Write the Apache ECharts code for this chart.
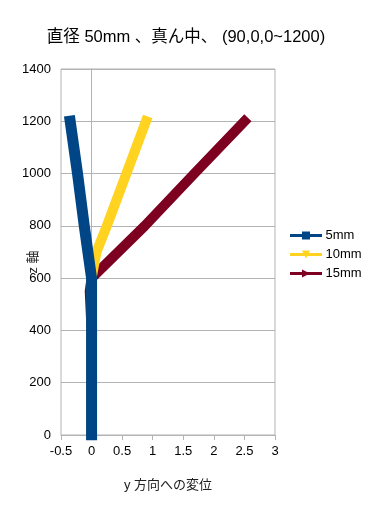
<!DOCTYPE html>
<html>
<head>
<meta charset="utf-8">
<script src="https://cdn.jsdelivr.net/npm/echarts@6/dist/echarts.min.js"></script>
<style>
html,body{margin:0;padding:0;background:#fff;}
#chart{width:372px;height:510px;}
</style>
</head>
<body>
<div id="chart"></div>
<script>
var titleText = '直径 50mm 、真ん中、 (90,0,0~1200)';
var xAxisName = 'y 方向への変位';
var yAxisName = 'z 軸';
var seriesNames = ['5mm', '10mm', '15mm'];
// [y displacement, z]
var data5mm = [[0, 0], [0, 200], [0, 400], [0, 600], [-0.12, 800], [-0.23, 1000], [-0.35, 1200]];
var data10mm = [[0, 0], [0, 200], [0, 400], [0, 600], [0.08, 700], [0.25, 800], [0.57, 1000], [0.89, 1200]];
var data15mm = [[0, 0], [0, 200], [0, 400], [-0.03, 550], [0, 600], [0.87, 800], [1.68, 1000], [2.5, 1200]];
var xMin = -0.5, xMax = 3, xInterval = 0.5;
var yMin = 0, yMax = 1400, yInterval = 200;

var FONT = "'Liberation Sans', 'Noto Sans CJK JP', sans-serif";
var colors = ['#004586', '#ffd320', '#7e0021'];
var chart = echarts.init(document.getElementById('chart'), null, {renderer: 'canvas'});
function mkSeries(name, data, color, symbol, rot, z, w) {
  return {
    name: name, type: 'line', data: data, z: z,
    symbol: symbol, symbolSize: 6, symbolRotate: rot, showSymbol: true,
    itemStyle: {color: color},
    lineStyle: {color: color, width: w, cap: 'square', join: 'round'},
    emphasis: {disabled: true}, animation: false
  };
}
chart.setOption({
  animation: false,
  color: colors,
  textStyle: {fontFamily: FONT},
  title: {
    text: titleText, left: 'center', top: 24,
    textStyle: {fontFamily: FONT, fontSize: 16.5, fontWeight: 'normal', color: '#000'}
  },
  legend: {
    data: seriesNames, orient: 'vertical', left: 290, top: 229, padding: 0,
    itemWidth: 29, itemHeight: 10, itemGap: 6,
    lineStyle: {width: 3},
    textStyle: {fontFamily: FONT, fontSize: 13, color: '#000'}
  },
  grid: {
    left: 61, right: 97, top: 69, bottom: 75, containLabel: false,
    outerBoundsMode: 'none',
    show: true, borderColor: '#b3b3b3', borderWidth: 1
  },
  xAxis: {
    type: 'value', min: xMin, max: xMax, interval: xInterval,
    name: xAxisName, nameLocation: 'middle', nameGap: 44,
    nameTextStyle: {fontFamily: FONT, fontSize: 13, color: '#222'},
    axisLine: {show: true, lineStyle: {color: '#b3b3b3'}},
    axisTick: {show: true, length: 5, lineStyle: {color: '#b3b3b3'}},
    axisLabel: {fontFamily: FONT, fontSize: 13, color: '#000', margin: 10},
    splitLine: {show: false}
  },
  yAxis: {
    type: 'value', min: yMin, max: yMax, interval: yInterval,
    name: yAxisName, nameLocation: 'middle', nameGap: 21, nameMoveOverlap: false,
    nameTextStyle: {fontFamily: FONT, fontSize: 13, color: '#222', padding: [0, 20, 0, 0]},
    axisLine: {show: true, onZero: true, lineStyle: {color: '#b3b3b3'}},
    axisTick: {show: false},
    axisLabel: {fontFamily: FONT, fontSize: 13, color: '#000', margin: 10,
      formatter: function (v) { return String(v); }},
    splitLine: {show: true, lineStyle: {color: '#b3b3b3'}}
  },
  series: [
    mkSeries(seriesNames[0], data5mm, colors[0], 'rect', 0, 4, 11),
    mkSeries(seriesNames[1], data10mm, colors[1], 'triangle', 180, 3, 10),
    mkSeries(seriesNames[2], data15mm, colors[2], 'triangle', -90, 2, 10)
  ]
});
</script>
</body>
</html>
